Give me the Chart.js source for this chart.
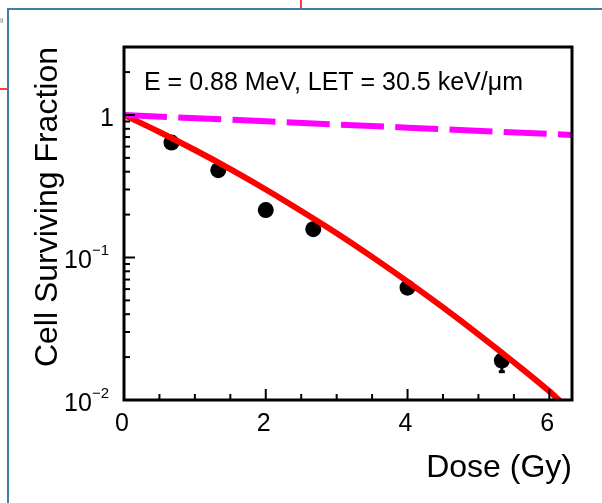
<!DOCTYPE html>
<html>
<head>
<meta charset="utf-8">
<script src="https://cdn.jsdelivr.net/npm/chart.js@4.4.1/dist/chart.umd.min.js"></script>
<style>
  html, body { margin: 0; padding: 0; background: #fff; }
  canvas { display: block; }
</style>
</head>
<body>
<canvas id="survivalChart" width="602" height="503"></canvas>
<script>
// measured points (dose in Gy, surviving fraction)
const doses = [0.67, 1.33, 2.0, 2.67, 4.0, 5.33];
const survival = [0.64, 0.41, 0.215, 0.158, 0.0614, 0.0189];
const errLow = [0.62, 0.395, 0.207, 0.152, 0.059, 0.0158];
const errHigh = [0.66, 0.425, 0.223, 0.164, 0.064, 0.0222];

// fitted curve (red)
const fitDose = [0, 0.5, 1, 1.5, 2, 2.5, 3, 3.5, 4, 4.5, 5, 5.5, 6, 6.2];
const fitSurvival = [1, 0.760, 0.568, 0.417, 0.300, 0.212, 0.148, 0.101, 0.0677, 0.0446, 0.0289, 0.0184, 0.0115, 0.0093];

// reference curve (magenta dashed)
const refDose = [0, 2, 4, 6.32];
const refSurvival = [1, 0.903, 0.815, 0.724];

const xTicks = [0, 2, 4, 6];
const yTicks = [1, 0.1, 0.01];
const yTickBase = ['1', '10', '10'];
const yTickExp = ['', '\u22121', '\u22122'];

const FONT = '"Liberation Sans", Arial, Helvetica, sans-serif';

const toXY = (xs, ys) => xs.map((x, i) => ({ x: x, y: ys[i] }));

const rootStyle = {
  id: 'rootStyle',
  beforeDatasetsDraw(chart) {
    const ctx = chart.ctx;
    const xs = chart.scales.x, ys = chart.scales.y;
    ctx.save();
    ctx.strokeStyle = '#000';
    ctx.lineWidth = 3;
    doses.forEach((d, i) => {
      const px = xs.getPixelForValue(d);
      const lo = ys.getPixelForValue(errLow[i]);
      const hi = ys.getPixelForValue(errHigh[i]);
      ctx.beginPath();
      ctx.moveTo(px, lo);
      ctx.lineTo(px, hi);
      ctx.stroke();
      ctx.beginPath();
      ctx.moveTo(px - 3, lo);
      ctx.lineTo(px + 3, lo);
      ctx.stroke();
    });
    ctx.restore();
  },
  afterDraw(chart) {
    const ctx = chart.ctx;
    const a = chart.chartArea;
    const xs = chart.scales.x, ys = chart.scales.y;
    ctx.save();

    // frame
    ctx.strokeStyle = '#000';
    ctx.lineWidth = 3;
    ctx.strokeRect(a.left, a.top, a.right - a.left, a.bottom - a.top);

    // x ticks, drawn inward
    ctx.lineWidth = 2;
    for (let i = 0; i * 0.5 <= xs.max; i++) {
      const v = i * 0.5;
      const px = xs.getPixelForValue(v);
      const len = (i % 4 === 0) ? 11 : 6;
      ctx.beginPath();
      ctx.moveTo(px, a.bottom);
      ctx.lineTo(px, a.bottom - len);
      ctx.stroke();
    }
    // y ticks (log), drawn inward
    [0.01, 0.1, 1].forEach(dec => {
      for (let k = 1; k <= 9; k++) {
        const v = k * dec;
        if (v > ys.max) break;
        const py = ys.getPixelForValue(v);
        const len = k === 1 ? 11 : 6;
        ctx.beginPath();
        ctx.moveTo(a.left, py);
        ctx.lineTo(a.left + len, py);
        ctx.stroke();
      }
    });

    // x tick labels
    ctx.fillStyle = '#000';
    ctx.font = '25px ' + FONT;
    ctx.textAlign = 'center';
    ctx.textBaseline = 'alphabetic';
    xTicks.forEach(v => {
      ctx.fillText(String(v), xs.getPixelForValue(v) - 2, 431);
    });

    // y tick labels with exponents
    yTicks.forEach((v, i) => {
      const py = ys.getPixelForValue(v);
      const base = py + 11;
      ctx.textAlign = 'right';
      if (yTickExp[i]) {
        ctx.font = '15px ' + FONT;
        const ew = ctx.measureText(yTickExp[i]).width;
        ctx.fillText(yTickExp[i], 109, base - 13);
        ctx.font = '25px ' + FONT;
        ctx.fillText(yTickBase[i], 109 - ew, base);
      } else {
        ctx.font = '25px ' + FONT;
        ctx.fillText(yTickBase[i], 114, base);
      }
    });

    // axis titles
    ctx.font = '32px ' + FONT;
    ctx.textAlign = 'right';
    ctx.fillText('Dose (Gy)', a.right, 477);
    ctx.save();
    ctx.translate(57, a.top);
    ctx.rotate(-Math.PI / 2);
    ctx.fillText('Cell Surviving Fraction', 0, 0);
    ctx.restore();

    // annotation
    ctx.font = '25px ' + FONT;
    ctx.textAlign = 'left';
    ctx.fillText('E = 0.88 MeV, LET = 30.5 keV/\u03bcm', 144, 90);

    // window edges around the canvas
    ctx.strokeStyle = '#3d7fa3';
    ctx.lineWidth = 2;
    ctx.beginPath();
    ctx.moveTo(8, 503);
    ctx.lineTo(8, 9);
    ctx.lineTo(602, 9);
    ctx.stroke();
    ctx.strokeStyle = '#ff0000';
    ctx.lineWidth = 1.5;
    ctx.beginPath();
    ctx.moveTo(301, 0);
    ctx.lineTo(301, 8);
    ctx.moveTo(0, 89);
    ctx.lineTo(7, 89);
    ctx.stroke();
    ctx.fillStyle = '#888';
    ctx.font = '8px ' + FONT;
    ctx.fillText('li', 0, 23);

    ctx.restore();
  }
};

new Chart(document.getElementById('survivalChart').getContext('2d'), {
  type: 'line',
  data: {
    datasets: [
      {
        label: 'reference',
        data: toXY(refDose, refSurvival),
        borderColor: '#ff00ff',
        borderWidth: 6,
        borderDash: [43, 11.3],
        pointRadius: 0,
        fill: false,
        order: 0
      },
      {
        label: 'fit',
        data: toXY(fitDose, fitSurvival),
        borderColor: '#ff0000',
        borderWidth: 6,
        pointRadius: 0,
        cubicInterpolationMode: 'monotone',
        fill: false,
        order: 1
      },
      {
        label: 'data',
        data: toXY(doses, survival),
        showLine: false,
        pointRadius: 8,
        pointBackgroundColor: '#000',
        pointBorderWidth: 0,
        order: 2
      }
    ]
  },
  options: {
    responsive: false,
    devicePixelRatio: 1,
    animation: false,
    layout: { padding: { left: 124, top: 47, right: 30, bottom: 103 } },
    plugins: { legend: { display: false }, tooltip: { enabled: false } },
    scales: {
      x: { type: 'linear', min: 0, max: 6.32, display: false },
      y: { type: 'logarithmic', min: 0.01, max: 3, display: false }
    }
  },
  plugins: [rootStyle]
});
</script>
</body>
</html>
